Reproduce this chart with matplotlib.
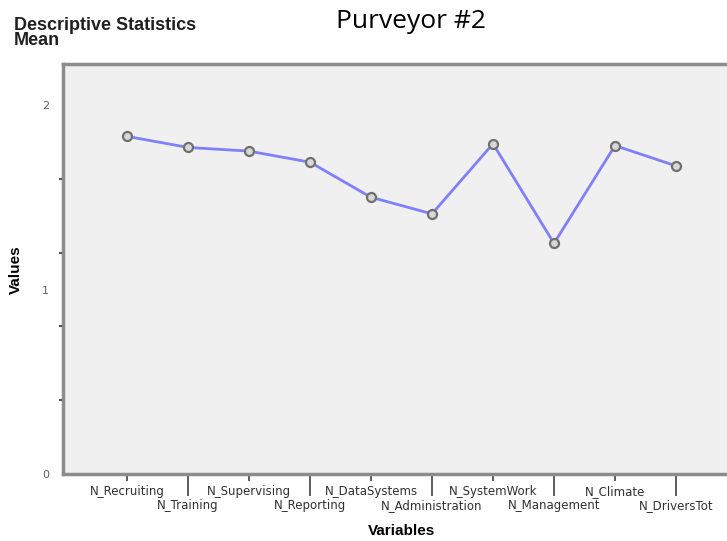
import matplotlib.pyplot as plt
import numpy as np

# variables and their means
variables = ['N_Recruiting', 'N_Training', 'N_Supervising', 'N_Reporting',
             'N_DataSystems', 'N_Administration', 'N_SystemWork',
             'N_Management', 'N_Climate', 'N_DriversTot']
means = [1.83, 1.77, 1.75, 1.69, 1.50, 1.41, 1.79, 1.25, 1.78, 1.67]

fig = plt.figure(figsize=(7.27, 5.41), dpi=100)
ax = fig.add_axes([63 / 727, 1 - 474 / 541, 1 - 63 / 727, (474 - 64) / 541])
ax.set_facecolor('#f0f0f0')

x = np.arange(len(variables))
ax.plot(x, means, '-', color='#8080ff', lw=2, zorder=2)
ax.plot(x, means, 'o', mfc='#d8d8d8', mec='#707070', mew=1.6,
        markersize=6.5, zorder=3)

ax.set_xlim(-64 / 61, (727 - 63 - 64) / 61)
ax.set_ylim(0, (474 - 64) / 184.5)

for s in ['left', 'top', 'bottom']:
    ax.spines[s].set_color('#8c8c8c')
    ax.spines[s].set_linewidth(2.5)
ax.spines['right'].set_visible(False)

# x ticks: labels alternate between two rows
ax.set_xticks(x[0::2])
ax.set_xticklabels(variables[0::2], va='baseline')
ax.set_xticks(x[1::2], minor=True)
ax.set_xticklabels(variables[1::2], minor=True, va='baseline')
ax.tick_params(axis='x', which='major', length=5, width=1.3,
               color='#505050', pad=10, labelsize=8.5, labelcolor='#303030')
ax.tick_params(axis='x', which='minor', length=16, width=1.3,
               color='#505050', pad=9.2, labelsize=8.5, labelcolor='#303030')

# y ticks: labels at 0, 1, 2; small tick marks every 0.4
ax.set_yticks([0, 1, 2])
ax.set_yticklabels(['0', '1', '2'])
ax.set_yticks(np.arange(0, 2.01, 0.4), minor=True)
ax.tick_params(axis='y', which='major', length=0, pad=10,
               labelsize=8, labelcolor='#606060')
ax.tick_params(axis='y', which='minor', length=3, width=1.5,
               color='#505050')

fig.text(402 / 727, 1 - 531 / 541, 'Variables', fontsize=11,
         fontweight='bold', family='Liberation Sans',
         ha='center', va='center')
fig.text(16 / 727, 1 - 270 / 541, 'Values', fontsize=11,
         fontweight='bold', family='Liberation Sans',
         ha='center', va='center', rotation=90)

fig.text(14 / 727, 1 - 17 / 541, 'Descriptive Statistics\nMean',
         fontsize=13, fontweight='bold', family='Liberation Sans',
         va='top', ha='left', linespacing=0.85, color='#202020')
fig.text(411 / 727, 1 - 22 / 541, 'Purveyor #2', fontsize=19,
         family='Open Sans', ha='center', va='center')

fig.savefig('out.png', dpi=100)
